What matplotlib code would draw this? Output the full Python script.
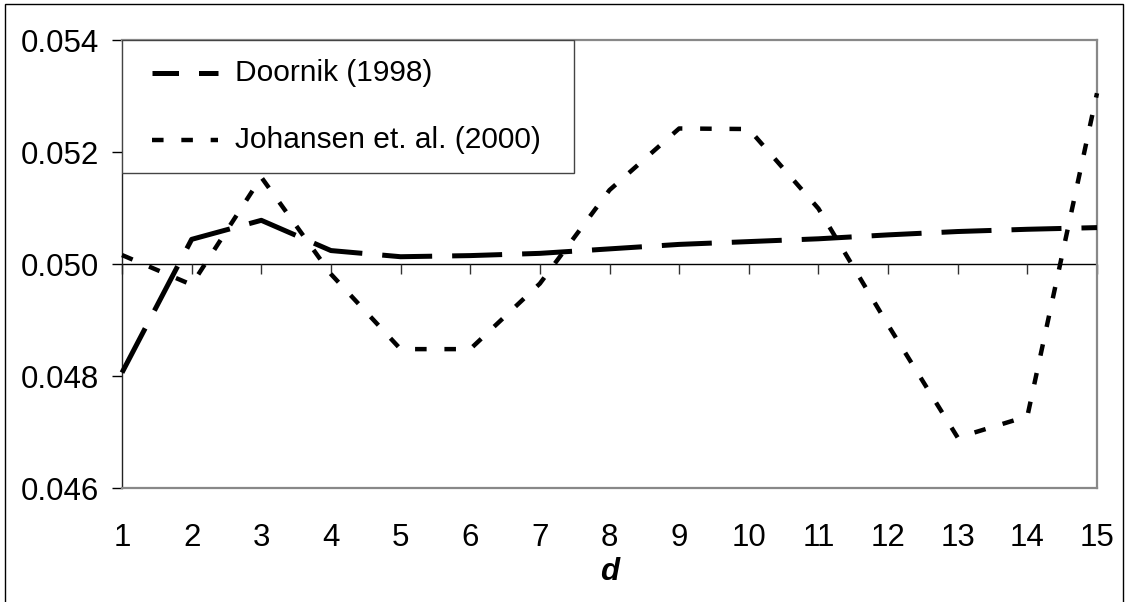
import matplotlib
matplotlib.use("Agg")
import matplotlib.pyplot as plt
from matplotlib.patches import Rectangle
from matplotlib.lines import Line2D
from matplotlib.ticker import FormatStrFormatter

# ---- data ----
d_values = list(range(1, 16))
doornik = [0.04806, 0.05044, 0.05078, 0.05024, 0.05013, 0.05015, 0.05019,
           0.05027, 0.05035, 0.05040, 0.05045, 0.05052, 0.05058, 0.05062, 0.05065]
johansen = [0.05016, 0.04963, 0.05155, 0.04982, 0.04848, 0.04848, 0.04965,
            0.05132, 0.05242, 0.05241, 0.05099, 0.04891, 0.04690, 0.04728, 0.05305]
y_ticks = [0.046, 0.048, 0.050, 0.052, 0.054]
label_doornik = "Doornik (1998)"
label_johansen = "Johansen et. al. (2000)"
x_label = "d"

plt.rcParams['font.family'] = ['Liberation Sans', 'DejaVu Sans']

W, H = 1129, 602
fig = plt.figure(figsize=(W / 100, H / 100), dpi=100)
ax = fig.add_axes([122 / W, 1 - 488 / H, (1097 - 122) / W, (488 - 40) / H])

# outer frame
fig.patches.append(Rectangle((5 / W, -0.02), (1123 - 5) / W, 1 - 4 / H + 0.02,
                             transform=fig.transFigure, fill=False,
                             edgecolor='black', linewidth=1.0))

# horizontal axis line at 0.050 with category ticks
ax.axhline(0.050, color='black', linewidth=1.0, zorder=2)
ax.plot(d_values, [0.050] * len(d_values), linestyle='none', marker=3,
        markersize=7.5, markeredgewidth=1.0, color='#333333', zorder=2,
        clip_on=False)

lw_d = 3.6
lw_j = 3.2
ax.plot(d_values, doornik, color='black', linewidth=lw_d,
        linestyle=(0, (10, 4)), dash_capstyle='butt', zorder=4, clip_on=False)
ax.plot(d_values, johansen, color='black', linewidth=lw_j,
        linestyle=(0, (2.6, 4.0)), dash_capstyle='butt', zorder=3, clip_on=False)

ax.set_xlim(1, 15)
ax.set_ylim(0.046, 0.054)
ax.set_yticks(y_ticks)
ax.yaxis.set_major_formatter(FormatStrFormatter('%.3f'))
ax.set_xticks(d_values)
ax.set_xticklabels([str(v) for v in d_values])

ax.tick_params(axis='y', direction='out', length=7.5, width=1.0,
               color='black', labelsize=22.5, pad=9)
ax.tick_params(axis='x', length=0, labelsize=22.5, pad=25)

for side in ['top', 'right', 'bottom']:
    ax.spines[side].set_color('#888888')
    ax.spines[side].set_linewidth(1.6)
ax.spines['left'].set_color('#222222')
ax.spines['left'].set_linewidth(1.0)

ax.text(0.5, -0.1875, x_label, transform=ax.transAxes, ha='center', va='center',
        fontsize=22.5, fontweight='bold', fontstyle='italic')

# legend (box, handles, labels)
to_ax = lambda px, py: ((px - 122) / (1097 - 122), (488 - py) / (488 - 40))
x0, y0 = to_ax(122, 173)
x1, y1 = to_ax(574, 40)
ax.add_patch(Rectangle((x0, y0), x1 - x0, y1 - y0, transform=ax.transAxes,
                       facecolor='white', edgecolor='#444444', linewidth=1.0,
                       zorder=6))
for yy, lbl, lw, ls in [(73, label_doornik, lw_d, (4.7, (10, 4))),
                        (140, label_johansen, lw_j, (0, (2.6, 4.0)))]:
    ha, va = to_ax(152, yy)
    hb, _ = to_ax(218, yy)
    ax.add_line(Line2D([ha, hb], [va, va], transform=ax.transAxes,
                       color='black', linewidth=lw, linestyle=ls,
                       dash_capstyle='butt', zorder=7))
    tx, _ = to_ax(235, yy)
    ax.text(tx, va, lbl, transform=ax.transAxes, ha='left', va='center',
            fontsize=21.5, zorder=7)

fig.savefig("out.png", dpi=100)
